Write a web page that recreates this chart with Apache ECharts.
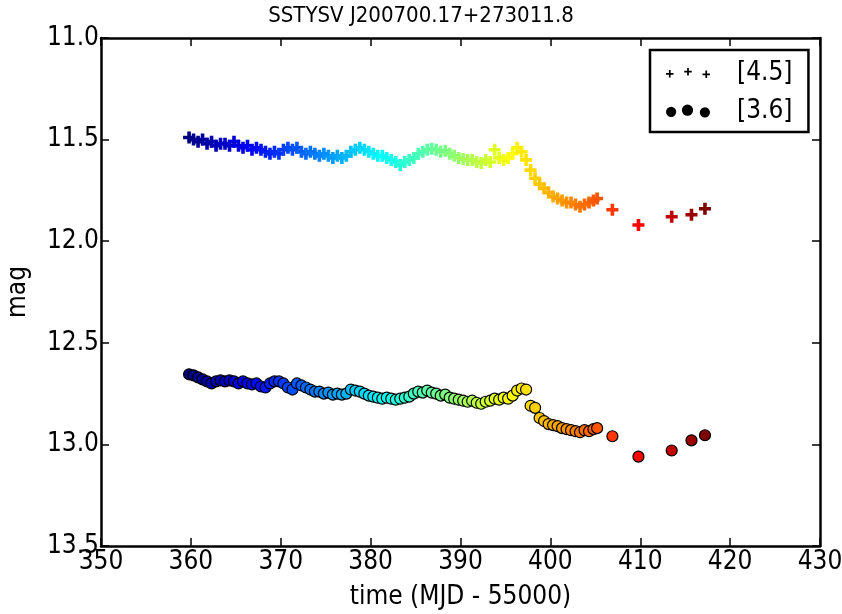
<!DOCTYPE html>
<html>
<head>
<meta charset="utf-8">
<script src="https://cdn.jsdelivr.net/npm/echarts@6/dist/echarts.min.js"></script>
<style>
	html, body { margin: 0; padding: 0; background: #fff; }
	#main { width: 842px; height: 614px; }
</style>
</head>
<body>
<div id="main"></div>
<script>
// time (MJD - 55000), shared by both bands
var times = [
	359.8, 360.3, 360.8, 361.3, 361.8, 362.3, 362.8, 363.3, 363.8, 364.3,
	364.8, 365.3, 365.8, 366.3, 366.8, 367.3, 367.8, 368.3, 368.8, 369.3,
	369.8, 370.3, 370.8, 371.3, 371.8, 372.3, 372.8, 373.3, 373.8, 374.3,
	374.8, 375.3, 375.8, 376.3, 376.8, 377.3, 377.8, 378.3, 378.8, 379.3,
	379.8, 380.3, 380.8, 381.3, 381.8, 382.3, 382.8, 383.3, 383.8, 384.3,
	384.8, 385.3, 385.8, 386.3, 386.8, 387.3, 387.8, 388.3, 388.8, 389.3,
	389.8, 390.3, 390.8, 391.3, 391.8, 392.3, 392.8, 393.3, 393.8, 394.3,
	394.8, 395.3, 395.8, 396.3, 396.8, 397.3, 397.8, 398.3, 398.8, 399.3,
	399.8, 400.3, 400.8, 401.3, 401.8, 402.3, 402.8, 403.3, 403.8, 404.3,
	404.8, 405.2, 406.9, 409.8, 413.5, 415.7, 417.2
];
// [4.5] band
var mag45 = [
	11.49, 11.50, 11.51, 11.50, 11.52, 11.51, 11.53, 11.52, 11.52, 11.53,
	11.51, 11.53, 11.54, 11.53, 11.55, 11.54, 11.55, 11.56, 11.57, 11.56,
	11.57, 11.55, 11.54, 11.55, 11.54, 11.56, 11.57, 11.56, 11.57, 11.58,
	11.57, 11.58, 11.59, 11.58, 11.59, 11.58, 11.56, 11.55, 11.54, 11.55,
	11.56, 11.57, 11.58, 11.58, 11.59, 11.60, 11.61, 11.625, 11.61, 11.60,
	11.59, 11.57, 11.56, 11.55, 11.545, 11.55, 11.56, 11.555, 11.57, 11.58,
	11.59, 11.595, 11.60, 11.60, 11.61, 11.615, 11.60, 11.61, 11.55, 11.59,
	11.60, 11.59, 11.57, 11.54, 11.56, 11.60, 11.65, 11.69, 11.72, 11.74,
	11.76, 11.78, 11.79, 11.80, 11.81, 11.81, 11.82, 11.83, 11.82, 11.81,
	11.80, 11.79, 11.845, 11.92, 11.88, 11.87, 11.84
];
// [3.6] band
var mag36 = [
	12.655, 12.66, 12.67, 12.68, 12.69, 12.70, 12.69, 12.685, 12.69, 12.685,
	12.69, 12.70, 12.69, 12.70, 12.705, 12.70, 12.715, 12.72, 12.70, 12.69,
	12.69, 12.70, 12.72, 12.73, 12.70, 12.71, 12.72, 12.73, 12.74, 12.74,
	12.75, 12.745, 12.755, 12.75, 12.755, 12.75, 12.73, 12.735, 12.74, 12.75,
	12.76, 12.765, 12.77, 12.775, 12.77, 12.775, 12.78, 12.775, 12.77, 12.765,
	12.75, 12.74, 12.745, 12.735, 12.745, 12.75, 12.76, 12.755, 12.77, 12.775,
	12.78, 12.785, 12.79, 12.785, 12.795, 12.80, 12.79, 12.785, 12.775, 12.78,
	12.77, 12.775, 12.76, 12.735, 12.725, 12.73, 12.81, 12.82, 12.87, 12.885,
	12.90, 12.905, 12.91, 12.92, 12.925, 12.93, 12.935, 12.94, 12.93, 12.935,
	12.925, 12.92, 12.96, 13.06, 13.03, 12.98, 12.955
];
var xTicks = [350, 430, 10];
var yTicks = [11.0, 13.5, 0.5];
var seriesNames = ['[4.5]', '[3.6]'];

var FONT = '"DejaVu Sans Condensed", "DejaVu Sans"';
var JET = ['#00007f', '#0000ff', '#007fff', '#00ffff', '#7fff7f', '#ffff00', '#ff7f00', '#ff0000', '#7f0000'];

//粗十字 marker
var PLUS = 'path://M3.5,0H6.5V3.5H10V6.5H6.5V10H3.5V6.5H0V3.5H3.5Z';

function plusAt(cx, cy, a, t) {
	return 'M' + (cx - t) + ',' + (cy - a) + 'H' + (cx + t) + 'V' + (cy - t) + 'H' + (cx + a) +
		'V' + (cy + t) + 'H' + (cx + t) + 'V' + (cy + a) + 'H' + (cx - t) + 'V' + (cy + t) +
		'H' + (cx - a) + 'V' + (cy - t) + 'H' + (cx - t) + 'Z';
}
function circleAt(cx, cy, r) {
	return 'M' + (cx - r) + ',' + cy + 'A' + r + ',' + r + ',0,1,0,' + (cx + r) + ',' + cy +
		'A' + r + ',' + r + ',0,1,0,' + (cx - r) + ',' + cy + 'Z';
}
var legendPlus = 'path://' + plusAt(4, 8, 3.5, 0.8) + plusAt(21, 6, 3.5, 0.8) + plusAt(38, 8.5, 3.5, 0.8);
var legendDots = 'path://' + circleAt(5, 8, 5) + circleAt(21, 6.5, 5.5) + circleAt(38, 8.5, 5);

function pairs(ys) {
	return times.map(function(t, i) { return [t, ys[i]]; });
}

var myChart = echarts.init(document.getElementById('main'));

function axisCommon(extra) {
	var o = {
		type: 'value',
		axisLine: { show: true, onZero: false, lineStyle: { color: '#000', width: 2.5 } },
		axisTick: { show: true, inside: true, length: 8, lineStyle: { color: '#000', width: 1.5 } },
		splitLine: { show: false },
		axisLabel: { show: false }
	};
	for (var k in extra) { o[k] = extra[k]; }
	return o;
}

var option = {
	backgroundColor: '#fff',
	animation: false,
	title: {
		text: 'SSTYSV J200700.17+273011.8',
		left: 'center',
		top: 0,
		textStyle: { fontFamily: FONT, fontSize: 22, fontWeight: 'normal', color: '#000' }
	},
	grid: { left: 101, right: 22, top: 38, bottom: 68, outerBoundsMode: 'none', containLabel: false },
	xAxis: [
		axisCommon({
			position: 'bottom',
			min: xTicks[0], max: xTicks[1], interval: xTicks[2],
			name: 'time (MJD - 55000)',
			nameLocation: 'middle',
			nameGap: 38,
			nameTextStyle: { fontFamily: FONT, fontSize: 26, color: '#000' },
			axisLabel: { show: true, margin: 3, fontFamily: FONT, fontSize: 26, color: '#000' }
		}),
		axisCommon({ position: 'top', min: xTicks[0], max: xTicks[1], interval: xTicks[2] })
	],
	yAxis: [
		axisCommon({
			position: 'left',
			inverse: true,
			min: yTicks[0], max: yTicks[1], interval: yTicks[2],
			name: 'mag',
			nameLocation: 'middle',
			nameGap: 70,
			nameTextStyle: { fontFamily: FONT, fontSize: 26, color: '#000' },
			axisLabel: {
				show: true, margin: 2, fontFamily: FONT, fontSize: 26, color: '#000',
				formatter: function(v) { return v.toFixed(1); }
			}
		}),
		axisCommon({ position: 'right', inverse: true, min: yTicks[0], max: yTicks[1], interval: yTicks[2] })
	],
	visualMap: {
		show: false,
		type: 'continuous',
		dimension: 0,
		seriesIndex: [0, 1],
		min: times[0],
		max: times[times.length - 1],
		inRange: { color: JET }
	},
	legend: {
		orient: 'vertical',
		left: 650,
		top: 50,
		padding: [10, 16, 8, 16],
		itemGap: 12,
		itemWidth: 44,
		itemHeight: 14,
		borderColor: '#000',
		borderWidth: 2.5,
		backgroundColor: '#fff',
		itemStyle: { color: '#000', borderWidth: 0 },
		textStyle: { fontFamily: FONT, fontSize: 26, color: '#000', padding: [0, 0, 0, 22] },
		data: [
			{ name: seriesNames[0], icon: legendPlus },
			{ name: seriesNames[1], icon: legendDots }
		]
	},
	series: [
		{
			name: seriesNames[0],
			type: 'scatter',
			symbol: PLUS,
			symbolSize: 12,
			itemStyle: { color: '#000', opacity: 1 },
			data: pairs(mag45)
		},
		{
			name: seriesNames[1],
			type: 'scatter',
			symbol: 'circle',
			symbolSize: 11,
			itemStyle: { color: '#000', borderColor: '#000', borderWidth: 1.2, opacity: 1 },
			data: pairs(mag36)
		}
	]
};
myChart.setOption(option);
</script>
</body>
</html>
